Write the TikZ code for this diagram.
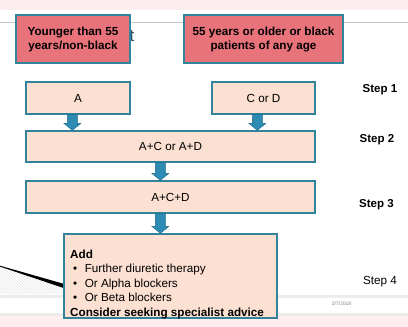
\documentclass[tikz,border=0pt]{standalone}
\usepackage{fontspec}
\setmainfont{Liberation Sans}
\usetikzlibrary{calc,patterns}
\definecolor{pinkband}{HTML}{FDEDEE}
\definecolor{redbox}{HTML}{E9737B}
\definecolor{tealb}{HTML}{31849B}
\definecolor{peach}{HTML}{FCE0D2}
\definecolor{arrowc}{HTML}{2E8BB3}
\definecolor{arrowd}{HTML}{1F6A8A}
\definecolor{titlec}{HTML}{2F4F6A}
\tikzset{
  redstep/.style={draw=tealb,line width=1.3pt,fill=redbox,inner sep=0pt,align=center,
    font=\fontsize{11.7}{14}\selectfont\bfseries},
  peachbox/.style={draw=tealb,line width=1.3pt,fill=peach,inner sep=0pt,align=center,
    font=\fontsize{11.7}{14}\selectfont},
  steplabel/.style={inner sep=0pt,font=\fontsize{11.5}{13}\selectfont\bfseries},
  blockarrow/.style={fill=arrowc,draw=arrowd,line width=0.4pt}
}
\newcommand{\myarrow}[3]{% from node, to node, x offset from from.south west
  \draw[blockarrow] let \p1=($(#1.south west)+(#3,0)$), \p2=(#2.north) in
    (\x1-5pt,\y1) -- (\x1+5pt,\y1) -- (\x1+5pt,\y2+7pt) -- (\x1+8.5pt,\y2+7pt)
    -- (\x1,\y2) -- (\x1-8.5pt,\y2+7pt) -- (\x1-5pt,\y2+7pt) -- cycle;}
\begin{document}
\begin{tikzpicture}[x=1pt,y=-1pt]
\useasboundingbox (0,0) rectangle (408,327);
% slide background
\fill[pinkband] (0,0) rectangle (408,10);
\draw[gray!45,line width=0.8pt] (0,22) -- (408,22);
\fill[pinkband] (0,316) rectangle (408,327);
\fill[gray!15] (0,313) rectangle (408,316);
\fill[gray!15] (0,295) rectangle (408,297.5);
\node[inner sep=0pt,text=titlec,font=\fontsize{17}{17}\selectfont] (title) at (132,36) {t};
% hatched wedge
\fill[pattern=north west lines,pattern color=gray!22] (0,267) -- (63,286) -- (63,294) -- (0,294) -- cycle;
\fill[black] (0,265.7) -- (0,266.6) -- (63,287.8) -- (63,283.6) -- cycle;
% boxes
\node[redstep,minimum width=114,minimum height=48] (young) at (73,39) {Younger than 55\\years/non-black};
\node[redstep,minimum width=159,minimum height=48] (old) at (263.5,39) {55 years or older or black\\patients of any age};
\node[peachbox,minimum width=104,minimum height=32] (A) at (78,98) {A};
\node[peachbox,minimum width=103,minimum height=32] (CD) at (263.5,98) {C or D};
\node[peachbox,minimum width=289,minimum height=31] (AC) at (170.5,146.5) {A+C or A+D};
\node[peachbox,minimum width=289,minimum height=32] (ACD) at (170.5,197) {A+C+D};
\node[peachbox,minimum width=213,minimum height=84] (add) at (170.5,276) {};
\node[anchor=north west,inner sep=0pt,align=left,font=\fontsize{11.7}{14.5}\selectfont] (addtext) at (70,249.5)
  {\textbf{Add}\\
   \hspace*{3pt}•\hspace{7.5pt}Further diuretic therapy\\
   \hspace*{3pt}•\hspace{7.5pt}Or Alpha blockers\\
   \hspace*{3pt}•\hspace{7.5pt}Or Beta blockers\\
   \textbf{Consider seeking specialist advice}};
% arrows
\myarrow{A}{AC}{47}
\myarrow{CD}{AC}{46}
\myarrow{AC}{ACD}{135}
\myarrow{ACD}{add}{135}
% step labels
\node[steplabel] (s1) at (380,90) {Step 1};
\node[steplabel] (s2) at (377,140) {Step 2};
\node[steplabel] (s3) at (376.5,205) {Step 3};
\node[inner sep=0pt,font=\fontsize{11.7}{13}\selectfont] (s4) at (380,282) {Step 4};
\node[inner sep=0pt,text=gray,font=\fontsize{5}{5}\selectfont] (date) at (341.5,304) {3/7/2018};
\end{tikzpicture}
\end{document}
